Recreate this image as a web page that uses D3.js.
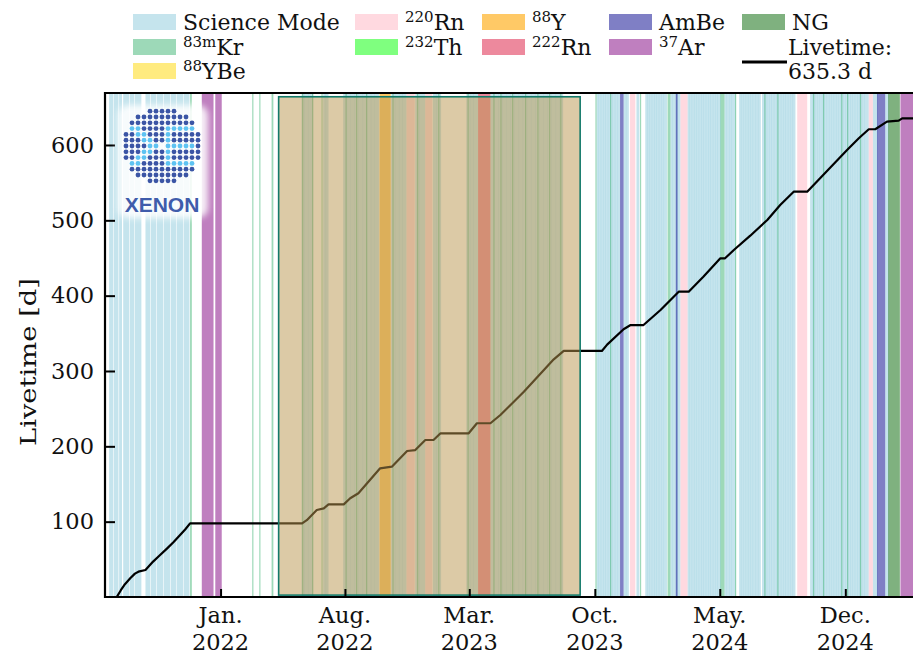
<!DOCTYPE html>
<html><head><meta charset="utf-8">
<script src="https://cdn.jsdelivr.net/npm/d3@7"></script>
<style>
body{margin:0;background:#fff;}
svg{display:block;font-family:"DejaVu Serif","Liberation Serif","Times New Roman",serif;}
</style>
</head><body>
<svg id="chart" width="913" height="655"></svg>
<script>
// ---------- DATA (band edges / curve points in days since epoch) ----------
const epoch = "2022-01-01";
const xDomain = ["2021-06-18", "2025-03-31"];
const yDomain = [0, 669];
const yTicks = [100, 200, 300, 400, 500, 600];
const xTickDates = ["2022-01-01", "2022-08-01", "2023-03-01", "2023-10-01", "2024-05-01", "2024-12-01"];
const xTickMonths = ["Jan.", "Aug.", "Mar.", "Oct.", "May.", "Dec."];
const xTickYears = ["2022", "2022", "2023", "2023", "2024", "2024"];

const scienceMode = [[-190,-183],[-182,-174],[-173,-168],[-166,-156],[-155,-147],[-146,-135],[-128,-120],[-119,-110],[-109,-98],[-97,-86],[-85,-76],[-75,-64],[-63,-53],
  [138,144],[143,150],[149,158],[175,180],[179,184],[209,216],[215,222],[221,229],[228,236],[235,243],[242,250],[249,257],[256,263],[262,270],
  [291,298],[297,305],[304,311],[310,317],[332,340],[339,349],[362,369],[368,376],
  [419,426],[425,432],[431,439],[460,467],[466,474],[473,481],[480,488],[487,495],[494,502],[501,509],[508,516],[515,523],[522,530],[529,537],
  [536,544],[543,551],[550,558],[557,565],[564,572],[571,579],[578,584],
  [641,645],[644,649],[648,653],[652,657],[656,661],[660,665],[664,669],[668,673],[672,677],[676,681],[687,692],[691,696],[709,714],
  [724,728],[727,732],[731,736],[735,740],[739,744],[743,748],[747,752],[751,756],[755,761],[767,771],[770,776],[776,780],[779,784],
  [796,800],[799,804],[803,808],[807,812],[811,816],[815,820],[819,824],[823,828],[827,832],[831,836],[835,840],[839,844],[843,848],[847,853],
  [859,863],[862,868],[867,872],[871,878],[884,888],[887,892],[891,896],[895,900],[899,904],[903,908],[907,913],[912,917],[916,921],
  [923,928],[927,932],[931,936],[935,940],[939,944],[943,948],[947,952],[951,956],[955,960],[959,964],[963,968],[967,972],[971,976],[975,980],
  [1005,1010],[1009,1014],[1013,1018],[1017,1022],[1021,1026],[1025,1030],[1029,1034],[1033,1038],[1037,1042],[1041,1046],[1045,1050],
  [1049,1054],[1053,1058],[1057,1062],[1061,1066],[1065,1070],[1069,1074],[1073,1078],[1077,1082],[1081,1086],[1085,1090],[1089,1094],
  [1093,1098],[1097,1105],[1112,1120],[1133,1139]];
const kr83m = [[-52,-49],[54,56],[66,68],[87,90],[139,141],[156,158],[172,174],[213,215],[231,233],[248,250],[293,295],[335,337],[371,373],[421,423],
  [465,467],[477,479],[497,499],[519,521],[540,542],[560,562],[579,581],[639,641],[664,666],[715,717],[762,767],[852,859],[877,879],[927,929],[949,951],
  [1010,1012],[1027,1029],[1058,1060],[1068,1070],[1090,1092]];
const yBe88 = [];
const rn220 = [[317,331],[349,361],[698,707],[784,796],[983,1000],[1105,1112]];
const th232 = [];
const y88 = [[271,290]];
const rn222 = [[439,460]];
const ambe = [[681,687],[776,779],[1119,1133]];
const ar37 = [[-32,-12],[-9,2],[1159,1190]];
const ng = [[1138,1158]];
const blinded = {start: 99, end: 613, low: 2.5, high: 664};

const livetime = [[-177,0],[-170,9],[-163,17],[-154,24.8],[-146,31],[-140,33.6],[-128,35.8],[-115,47],[-104,55],[-91,64.6],[-80,73],[-69,82.3],[-60,90],[-52,97.8],
  [139,97.8],[147,102],[164,115.5],[176,117.7],[184,123],[210,123],[221,131],[235,137.7],[272,170.8],[292,173],[318,193.8],[332,195],[349,208.4],[363,208.4],
  [375,217.3],[423,217.3],[437,230.6],[460,230.6],[477,241.6],[517,272.5],[568,315.5],[585,326.6],[650,326.6],[659,335],[687,355.4],[699,361],[721,361],
  [750,381],[764,392],[781,405.3],[798,405.3],[823,425.2],[852,449.6],[860,449.6],[875,460.6],[903,479.6],[932,500.5],[954,520.4],[977,538],[1000,538],
  [1022,555.8],[1068,593.4],[1088,609],[1105,620.9],[1116,620.9],[1136,631],[1156,632.3],[1162,635.3],[1190,635.3]];
const livetimeTotal = "635.3 d";

// ---------- STYLE ----------
const bandStyles = [
  {data: scienceMode, color:"#add8e6", op:0.7, label:["","Science Mode"]},
  {data: kr83m, color:"#3cb371", op:0.5, label:["83m","Kr"]},
  {data: yBe88, color:"#ffd700", op:0.5, label:["88","YBe"]},
  {data: rn220, color:"#ffc0cb", op:0.6, label:["220","Rn"]},
  {data: th232, color:"#00ff00", op:0.5, label:["232","Th"]},
  {data: y88, color:"#ffa500", op:0.6, label:["88","Y"]},
  {data: rn222, color:"#dc143c", op:0.5, label:["222","Rn"]},
  {data: ambe, color:"#00008b", op:0.5, label:["","AmBe"]},
  {data: ar37, color:"#800080", op:0.5, label:["37","Ar"]},
  {data: ng, color:"#006400", op:0.5, label:["","NG"]}
];
const FS = 22.5, FSL = 22, FSUP = 15, TXT = "#111";

const svg = d3.select("#chart");
const parse = d3.utcParse("%Y-%m-%d");
const t0 = parse(epoch);
const day = d => new Date(t0.getTime() + d * 864e5);

const L = 105, R = 915.7, T = 93, B = 597;
const x = d3.scaleUtc().domain(xDomain.map(parse)).range([L, R]);
const y = d3.scaleLinear().domain(yDomain).range([B, T]);

const defs = svg.append("defs");
defs.append("clipPath").attr("id","plotclip")
  .append("rect").attr("x",L).attr("y",T).attr("width",R-L).attr("height",B-T);

const plot = svg.append("g").attr("clip-path","url(#plotclip)");

bandStyles.forEach(s => {
  plot.append("g").selectAll("rect").data(s.data).join("rect")
    .attr("x", d => x(day(d[0])))
    .attr("width", d => Math.max(0.6, x(day(d[1])) - x(day(d[0]))))
    .attr("y", T).attr("height", B - T)
    .attr("fill", s.color).attr("fill-opacity", s.op);
});

plot.append("path").datum(livetime)
  .attr("d", d3.line().x(d => x(day(d[0]))).y(d => y(d[1])))
  .attr("fill","none").attr("stroke","#000").attr("stroke-width",2.2).attr("stroke-linejoin","round");

const ya = svg.append("g").attr("transform",`translate(${L},0)`)
  .call(d3.axisLeft(y).tickValues(yTicks).tickSize(-10).tickPadding(11));
ya.select(".domain").remove();
ya.attr("font-family", null).attr("font-size", null);
ya.selectAll(".tick line").attr("stroke","#000").attr("stroke-width",2);
ya.selectAll(".tick text").attr("font-size",FS).attr("fill",TXT);

const xa = svg.append("g").attr("transform",`translate(0,${B})`)
  .call(d3.axisBottom(x).tickValues(xTickDates.map(parse)).tickSize(-8).tickFormat(""));
xa.select(".domain").remove();
xa.selectAll(".tick line").attr("stroke","#000").attr("stroke-width",2);

const xl = svg.append("g");
xTickDates.forEach((d,i) => {
  const px = x(parse(d));
  const t = xl.append("text").attr("text-anchor","middle").attr("font-size",FS).attr("fill",TXT);
  t.append("tspan").attr("x", px).attr("y", 623).text(xTickMonths[i]);
  t.append("tspan").attr("x", px).attr("y", 650).text(xTickYears[i]);
});

// blinded region box (drawn over bands and curve)
plot.append("rect")
  .attr("x", x(day(blinded.start))).attr("width", x(day(blinded.end)) - x(day(blinded.start)))
  .attr("y", y(blinded.high)).attr("height", y(blinded.low) - y(blinded.high))
  .attr("fill","rgb(185,149,77)").attr("fill-opacity",0.5)
  .attr("stroke","#137a6a").attr("stroke-width",1.6);

// spines
svg.append("line").attr("x1",L).attr("x2",L).attr("y1",T-1).attr("y2",B+1).attr("stroke","#000").attr("stroke-width",2.2);
svg.append("line").attr("x1",L-1).attr("x2",913).attr("y1",T).attr("y2",T).attr("stroke","#000").attr("stroke-width",2.2);
svg.append("line").attr("x1",L-1).attr("x2",913).attr("y1",B).attr("y2",B).attr("stroke","#000").attr("stroke-width",2.2);

// y label
svg.append("text").attr("transform","translate(36,362) rotate(-90)").attr("text-anchor","middle")
  .attr("font-size",FS).attr("fill",TXT)
  .attr("textLength",168).attr("lengthAdjust","spacingAndGlyphs").text("Livetime [d]");

// legend
const colX = [133, 355, 482, 609, 742];
const rowY = [22, 47, 71];
const legendSlots = [[0,0],[0,1],[0,2],[1,0],[1,1],[2,0],[2,1],[3,0],[3,1],[4,0]];
const lg = svg.append("g");
bandStyles.forEach((s,i) => {
  const [c,r] = legendSlots[i];
  const px = colX[c], py = rowY[r];
  lg.append("rect").attr("x",px).attr("y",py-8).attr("width",43).attr("height",16)
    .attr("fill",s.color).attr("fill-opacity",s.op);
  const t = lg.append("text").attr("x",px+50).attr("y",py+8).attr("font-size",FSL).attr("fill",TXT);
  if (s.label[0]) {
    t.append("tspan").attr("font-size",FSUP).attr("dy",-8).text(s.label[0]);
    t.append("tspan").attr("dy",8).text(s.label[1]);
  } else {
    t.text(s.label[1]);
  }
});
lg.append("line").attr("x1",colX[4]).attr("x2",colX[4]+45).attr("y1",62).attr("y2",62)
  .attr("stroke","#000").attr("stroke-width",3);
lg.append("text").attr("x",colX[4]+46).attr("y",rowY[1]+8).attr("font-size",FSL).attr("fill",TXT).text("Livetime:");
lg.append("text").attr("x",colX[4]+46).attr("y",rowY[2]+8).attr("font-size",FSL).attr("fill",TXT).text(livetimeTotal);

// XENON logo
defs.append("filter").attr("id","soft").append("feGaussianBlur").attr("stdDeviation",3);
const logo = svg.append("g");
logo.append("rect").attr("x",118).attr("y",105).attr("width",90).attr("height",113).attr("rx",10)
  .attr("fill","#fff").attr("opacity",0.88).attr("filter","url(#soft)");
const cx = 162, cy = 146;
const dots = [];
for (let r = -6; r <= 6; r++) {
  for (let c = -6; c <= 6; c++) {
    const dx = c * 6, dy = r * 5.8;
    if (dx*dx + dy*dy > 38*38) continue;
    if (r === 0 && c === 0) continue;
    const ar = Math.abs(r);
    let light = false;
    if (ar <= 3 && (c === -1 - ar || c === -2 - ar)) light = true;
    if ((r === -3 || r === 0 || r === 3) && c >= 1 && c <= 5) light = true;
    if (c === 1 && ar <= 3) light = true;
    dots.push({dx, dy, light});
  }
}
logo.selectAll("circle").data(dots).join("circle")
  .attr("cx", d => cx + d.dx).attr("cy", d => cy + d.dy).attr("r", 2.4)
  .attr("fill", d => d.light ? "#5ec3f2" : "#3b55a5");
logo.append("text").attr("x",162).attr("y",212).attr("text-anchor","middle")
  .attr("font-family","Liberation Sans, Arial, sans-serif").attr("font-weight","bold")
  .attr("font-size",21).attr("fill","#3f5cab").text("XENON");
</script>
</body></html>
